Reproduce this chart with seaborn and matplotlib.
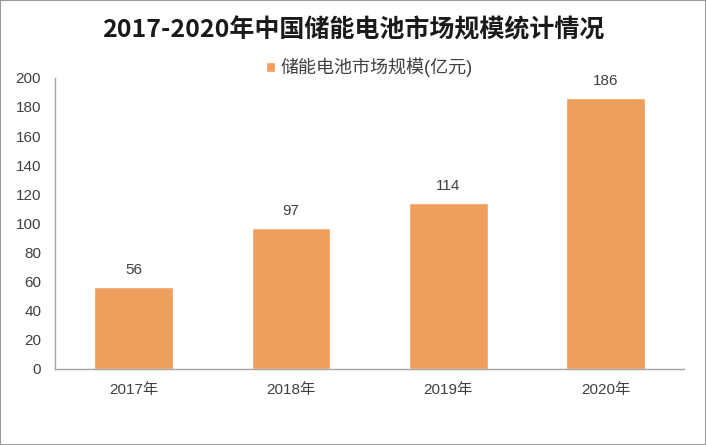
import matplotlib
matplotlib.use('Agg')
import matplotlib.pyplot as plt
import seaborn as sns
import pandas as pd
import numpy as np
from matplotlib.patches import Rectangle

years = ['2017年', '2018年', '2019年', '2020年']
values = [56, 97, 114, 186]
series_name = '储能电池市场规模(亿元)'
title = '2017-2020年中国储能电池市场规模统计情况'

sns.set_style('white')
plt.rcParams['font.family'] = ['Liberation Sans', 'Noto Sans CJK SC', 'DejaVu Sans']

df = pd.DataFrame({'year': years, 'value': values})
bar_color = '#F09E5C'
axis_color = '#A6A6A6'

fig = plt.figure(figsize=(7.06, 4.45), dpi=100)
ax = fig.add_axes([0.078, 0.171, 0.891, 0.654])
sns.barplot(data=df, x='year', y='value', color=bar_color, width=0.5,
            saturation=1, ax=ax, label=series_name)

ax.set_xlim(-0.5, len(years) - 0.5)
ax.set_ylim(0, 200)
ax.set_yticks(np.arange(0, 201, 20))
ax.set_xlabel('')
ax.set_ylabel('')

for s in ['top', 'right']:
    ax.spines[s].set_visible(False)
for s in ['left', 'bottom']:
    ax.spines[s].set_color(axis_color)
    ax.spines[s].set_linewidth(1)

ax.tick_params(axis='y', length=4, color=axis_color, labelsize=11, labelcolor='#404040', pad=6)
ax.tick_params(axis='x', which='major', length=0, labelsize=11, labelcolor='#404040', pad=10)
ax.set_xticks(np.arange(-0.5, len(years), 1), minor=True)
ax.tick_params(axis='x', which='minor', length=4, color=axis_color)

for i, v in enumerate(values):
    ax.text(i, v + 7, str(v), ha='center', va='bottom', fontsize=11, color='#404040')

fig.text(0.5, 0.932, title, ha='center', va='center', fontsize=18, fontweight='bold',
         color='#1a1a1a', family=['Noto Sans CJK SC', 'DejaVu Sans'])

leg = ax.legend(loc='upper center', bbox_to_anchor=(0.5, 1.125), frameon=False,
                fontsize=13, handlelength=0.5, handleheight=0.5, handletextpad=0.3)
for t in leg.get_texts():
    t.set_color('#404040')

fig.patches.append(Rectangle((0, 0), 1, 1, transform=fig.transFigure, fill=False,
                             edgecolor='#9A9A9A', linewidth=1.5))

fig.savefig('out.png', dpi=100)
